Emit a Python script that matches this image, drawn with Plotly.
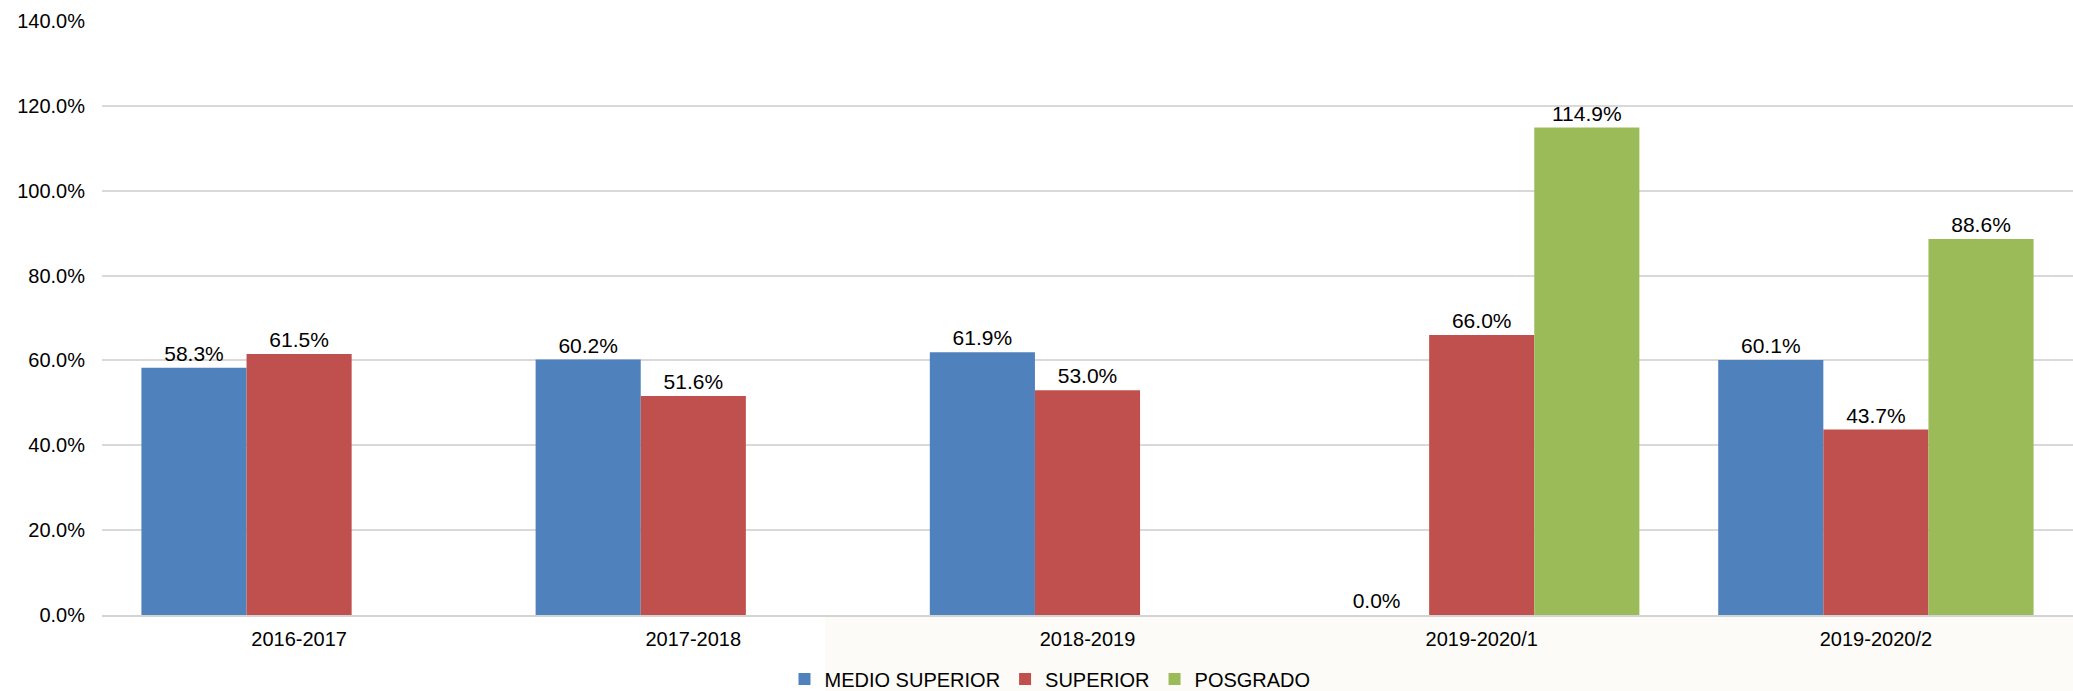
import plotly.graph_objects as go

categories = ["2016-2017", "2017-2018", "2018-2019", "2019-2020/1", "2019-2020/2"]
medio_superior = [58.3, 60.2, 61.9, 0.0, 60.1]
superior = [61.5, 51.6, 53.0, 66.0, 43.7]
posgrado = [None, None, None, 114.9, 88.6]
y_ticks = [0, 20, 40, 60, 80, 100, 120, 140]
y_tick_labels = [f"{v:.1f}%" for v in y_ticks]

series = [
    ("MEDIO SUPERIOR", medio_superior, "#4F81BD"),
    ("SUPERIOR", superior, "#C0504D"),
    ("POSGRADO", posgrado, "#9BBB59"),
]

font_family = "Liberation Sans, Arial, sans-serif"
L, R, T, B, W, H = 102, 0, 21, 76, 2073, 691
plot_w, plot_h = W - L - R, H - T - B

fig = go.Figure()
for name, vals, color in series:
    fig.add_trace(go.Bar(
        x=categories, y=vals, name=name,
        marker=dict(color=color, line=dict(width=0)),
        text=[None if v is None else f"{v:.1f}%" for v in vals],
        textposition="outside",
        textfont=dict(size=21, color="#000000", family=font_family),
        cliponaxis=False,
    ))

fig.add_shape(type="rect", xref="paper", yref="paper",
              x0=(825 - L) / plot_w, x1=1.0, y0=-B / plot_h, y1=0,
              fillcolor="#FCFBF7", line=dict(width=0), layer="below")

fig.update_layout(
    width=W, height=H,
    margin=dict(l=L, r=R, t=T, b=B, autoexpand=False),
    paper_bgcolor="white", plot_bgcolor="white",
    barmode="group", bargap=0.2, bargroupgap=0,
    font=dict(family=font_family, size=20, color="#000000"),
    showlegend=True,
    legend=dict(orientation="h", x=(1050 - L) / plot_w, xanchor="center",
                y=-(679 - (H - B)) / plot_h, yanchor="middle",
                font=dict(size=20, color="#000000"), itemwidth=30,
                bgcolor="rgba(0,0,0,0)", tracegroupgap=0),
    xaxis=dict(showgrid=False, showline=True, linecolor="#D4D4D4", linewidth=2,
               ticks="", tickfont=dict(size=20), ticklabelstandoff=5, automargin=False),
    yaxis=dict(range=[0, 140], tickvals=y_ticks, ticktext=y_tick_labels,
               showgrid=True, gridcolor="#D9D9D9", gridwidth=1.5,
               zeroline=False, showline=False, ticks="",
               tickfont=dict(size=20), ticklabelstandoff=16, automargin=False),
)

fig.write_html("out.html", post_script="document.body.style.margin='0';",
               config={"displayModeBar": False})
